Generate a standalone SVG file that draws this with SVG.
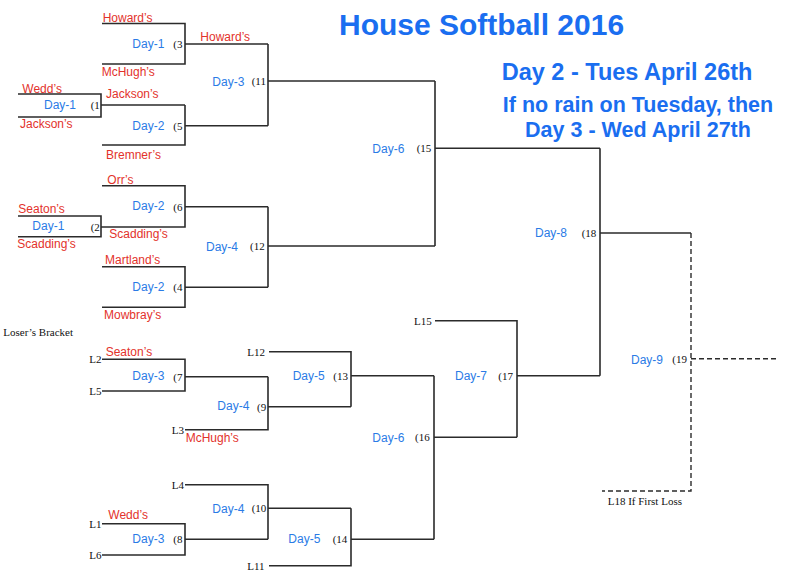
<svg xmlns="http://www.w3.org/2000/svg" width="789" height="577" viewBox="0 0 789 577">
<style>
.ln{fill:none;stroke:#2b2b2b;stroke-width:1.6}
.dash{fill:none;stroke:#2b2b2b;stroke-width:1.4;stroke-dasharray:5,3}
.day{font-family:"Liberation Sans",Arial,sans-serif;font-size:12px;fill:#2a7be6}
.team{font-family:"Liberation Sans",Arial,sans-serif;font-size:12px;fill:#e3322b}
.num{font-family:"Liberation Serif","Times New Roman",serif;font-size:11px;fill:#111}
.ttl{font-family:"Liberation Sans",Arial,sans-serif;font-weight:bold;fill:#1a6ef0}
</style>
<rect width="789" height="577" fill="#ffffff"/>
<g id="title">
<text class="ttl" x="339" y="35" font-size="30">House Softball 2016</text>
<text class="ttl" x="501.7" y="80" font-size="23.5">Day 2 - Tues April 26th</text>
<text class="ttl" x="638" y="111.7" font-size="21.5" text-anchor="middle">If no rain on Tuesday, then</text>
<text class="ttl" x="638" y="137.3" font-size="21.5" text-anchor="middle">Day 3 - Wed April 27th</text>
</g>
<g id="connectors">
<path class="ln" d="M102,23.5 H185 V64 H102 M185,44 H268"/>
<path class="ln" d="M18,94 H101 V117 H18 M101,105 H185"/>
<path class="ln" d="M185,105 V145 H102 M185,125.7 H268"/>
<path class="ln" d="M268,44 V125.7 M268,81 H435"/>
<path class="ln" d="M18,216 H101 V236.7 H18"/>
<path class="ln" d="M102,185.7 H185 V227 H101 M185,206.7 H268"/>
<path class="ln" d="M102,266.7 H185 V307.3 H102 M185,287.3 H268"/>
<path class="ln" d="M268,206.7 V287.3 M268,246 H435"/>
<path class="ln" d="M435,81 V246 M435,148.3 H600"/>
<path class="ln" d="M102,359.3 H185 V391 H102 M185,376.7 H268"/>
<path class="ln" d="M268,376.7 V429.7 H185 M268,406.7 H351"/>
<path class="ln" d="M269,351.7 H351 V406.7 M351,375.7 H434"/>
<path class="ln" d="M102,523.7 H185 V555 H102 M185,539.3 H268"/>
<path class="ln" d="M185,484.7 H268 V539.3 M268,508.3 H351"/>
<path class="ln" d="M351,508.3 V565.7 H269 M351,539.3 H434"/>
<path class="ln" d="M434,375.7 V539.3 M434,437.3 H517"/>
<path class="ln" d="M435,320.7 H517 V437.3 M517,375.7 H600"/>
<path class="ln" d="M600,148.3 V375.7 M600,233 H691"/>
<path class="dash" d="M691,233 V491 H602 M691,358.7 H776"/>
</g>
<g id="teams">
<text class="team" x="102.7" y="21.5">Howard’s</text>
<text class="team" x="101.7" y="76.3">McHugh’s</text>
<text class="team" x="200.3" y="41">Howard’s</text>
<text class="team" x="22.3" y="92.6">Wedd’s</text>
<text class="team" x="20" y="128">Jackson’s</text>
<text class="team" x="106" y="98">Jackson’s</text>
<text class="team" x="106" y="159.3">Bremner’s</text>
<text class="team" x="107.3" y="183.6">Orr’s</text>
<text class="team" x="18.3" y="213">Seaton’s</text>
<text class="team" x="109.3" y="237.6">Scadding’s</text>
<text class="team" x="17.3" y="247.6">Scadding’s</text>
<text class="team" x="105" y="264.3">Martland’s</text>
<text class="team" x="104" y="318.6">Mowbray’s</text>
<text class="team" x="105.7" y="356">Seaton’s</text>
<text class="team" x="185.7" y="442.3">McHugh’s</text>
<text class="team" x="108.3" y="519.3">Wedd’s</text>
</g>
<g id="losers-labels">
<text class="num" x="3.3" y="335.5" font-size="12">Loser’s Bracket</text>
<text class="num" x="89.3" y="363.3">L2</text>
<text class="num" x="89.3" y="395">L5</text>
<text class="num" x="171.7" y="433.7">L3</text>
<text class="num" x="247.3" y="355.7">L12</text>
<text class="num" x="414" y="324.7">L15</text>
<text class="num" x="171.7" y="488.7">L4</text>
<text class="num" x="89.3" y="527.7">L1</text>
<text class="num" x="89.3" y="559">L6</text>
<text class="num" x="247.3" y="569.7">L11</text>
<text class="num" x="607.7" y="505">L18 If First Loss</text>
</g>
<g id="game1"><text class="day" x="44" y="109">Day-1</text><text class="num" x="90.7" y="109">(1</text></g>
<g id="game2"><text class="day" x="32.3" y="230">Day-1</text><text class="num" x="90.7" y="231">(2</text></g>
<g id="game3"><text class="day" x="132.3" y="48.3">Day-1</text><text class="num" x="173.3" y="48">(3</text></g>
<g id="game4"><text class="day" x="132.3" y="291.3">Day-2</text><text class="num" x="173.3" y="291.3">(4</text></g>
<g id="game5"><text class="day" x="132.3" y="130">Day-2</text><text class="num" x="173.3" y="129.7">(5</text></g>
<g id="game6"><text class="day" x="132.3" y="210">Day-2</text><text class="num" x="173.3" y="210.7">(6</text></g>
<g id="game7"><text class="day" x="132.3" y="380.3">Day-3</text><text class="num" x="173.3" y="380.7">(7</text></g>
<g id="game8"><text class="day" x="132.3" y="542.6">Day-3</text><text class="num" x="173.3" y="543.3">(8</text></g>
<g id="game9"><text class="day" x="217.3" y="410.3">Day-4</text><text class="num" x="257" y="410.7">(9</text></g>
<g id="game10"><text class="day" x="212.3" y="512.6">Day-4</text><text class="num" x="251.7" y="512.3">(10</text></g>
<g id="game11"><text class="day" x="212.3" y="85.7">Day-3</text><text class="num" x="251.7" y="85">(11</text></g>
<g id="game12"><text class="day" x="206" y="251">Day-4</text><text class="num" x="250" y="250">(12</text></g>
<g id="game13"><text class="day" x="292.7" y="380">Day-5</text><text class="num" x="333.3" y="379.7">(13</text></g>
<g id="game14"><text class="day" x="288.3" y="542.7">Day-5</text><text class="num" x="332.7" y="543.3">(14</text></g>
<g id="game15"><text class="day" x="372.3" y="152.6">Day-6</text><text class="num" x="416.7" y="152.3">(15</text></g>
<g id="game16"><text class="day" x="372.3" y="442">Day-6</text><text class="num" x="415" y="441.3">(16</text></g>
<g id="game17"><text class="day" x="455" y="380">Day-7</text><text class="num" x="498.3" y="379.7">(17</text></g>
<g id="game18"><text class="day" x="535" y="237">Day-8</text><text class="num" x="581.7" y="237">(18</text></g>
<g id="game19"><text class="day" x="631" y="363.6">Day-9</text><text class="num" x="672.3" y="362.7">(19</text></g>
</svg>
